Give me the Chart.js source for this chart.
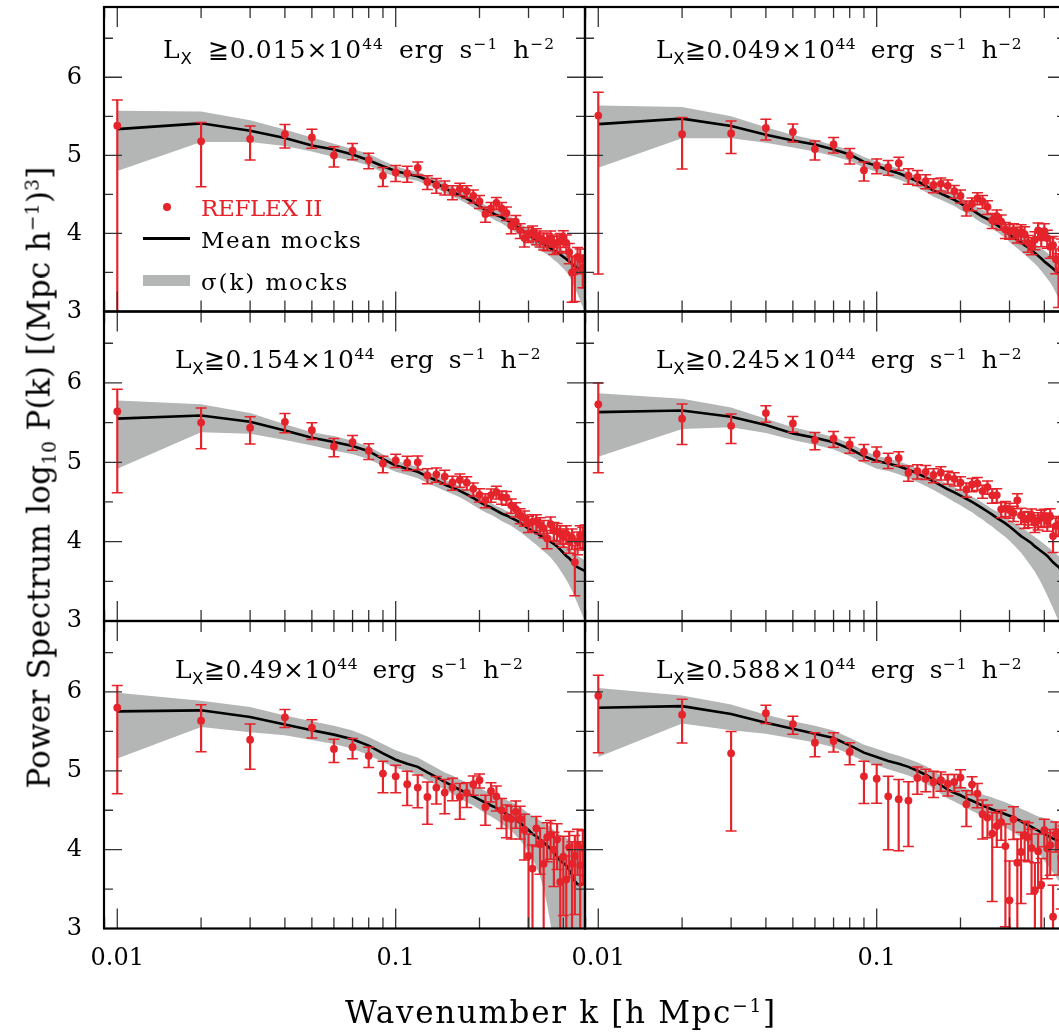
<!DOCTYPE html>
<html>
<head>
<meta charset="utf-8">
<script src="https://cdn.jsdelivr.net/npm/chart.js@4.4.1/dist/chart.umd.min.js"></script>
<style>
  html, body { margin: 0; padding: 0; background: #fff; overflow: hidden; }
  #page { position: relative; width: 1075px; height: 1033px; font-family: "DejaVu Serif", serif; color: #000; }
  #page canvas { position: absolute; left: 0; top: 0; }
  .txt { position: absolute; white-space: nowrap; line-height: 1; }
  .ttl { font-size: 25px; }
  .ttl sup { font-size: 0.62em; vertical-align: 0.55em; line-height: 0; }
  .ttl sub { font-size: 0.66em; vertical-align: -0.38em; line-height: 0; font-family: "DejaVu Sans", sans-serif; }
  .axt { font-size: 31px; }
  .axt sup { font-size: 0.6em; vertical-align: 0.6em; line-height: 0; }
  .axt sub { font-size: 0.6em; vertical-align: -0.3em; line-height: 0; }
  .leg { font-size: 23px; }
  .sym { position: absolute; }
</style>
</head>
<body>
<div id="page"></div>
<script>
// wavenumbers k [h/Mpc]
const kValues = [0.01,0.02,0.03,0.04,0.05,0.06,0.07,0.08,0.09,0.10,0.11,0.12,0.13,0.14,0.15,0.16,0.17,0.18,0.19,0.20,
  0.21,0.22,0.23,0.24,0.25,0.26,0.27,0.28,0.29,0.30,0.31,0.32,0.33,0.34,0.35,0.36,0.37,0.38,0.39,0.40,
  0.41,0.42,0.43,0.44,0.45,0.46,0.47,0.48];
const xTickLabels = [0.01, 0.1];
const yTickLabels = [3, 4, 5, 6];
const thresholds = ['0.015', '0.049', '0.154', '0.245', '0.49', '0.588'];

// log10 P(k) of REFLEX II, upper error in dex, mean of mocks, sigma band of mocks
const logP_015 = [5.38,5.18,5.21,5.27,5.23,5.00,5.06,4.94,4.74,4.78,4.77,4.84,4.66,4.62,4.59,4.53,4.57,4.54,4.48,4.41,
  4.25,4.32,4.39,4.32,4.26,4.10,4.15,4.04,3.94,3.99,4.01,3.97,3.94,3.91,3.90,3.94,3.86,3.88,3.90,3.94,3.88,3.76,3.50,3.51,3.70,3.67,3.56,3.56];
const errUp_015 = [0.33,0.24,0.165,0.125,0.105,0.11,0.092,0.088,0.105,0.09,0.09,0.075,0.08,0.085,0.08,0.08,0.072,0.072,0.075,0.075,
  0.085,0.075,0.07,0.075,0.078,0.085,0.08,0.085,0.09,0.085,0.085,0.09,0.09,0.095,0.095,0.09,0.10,0.10,0.10,0.095,0.10,0.11,0.20,0.20,0.12,0.13,0.16,0.16];
const mean_015 = [5.336,5.41,5.314,5.222,5.126,5.075,5.01,4.937,4.86,4.80,4.76,4.732,4.685,4.645,4.58,4.53,4.49,4.447,4.40,4.35,
  4.30,4.27,4.235,4.21,4.17,4.14,4.10,4.06,4.02,3.98,3.943,3.92,3.89,3.865,3.84,3.81,3.78,3.76,3.73,3.70,3.672,3.64,3.61,3.58,3.56,3.54,3.52,3.50];
const bandHi_015 = [5.57,5.56,5.45,5.33,5.23,5.15,5.08,5.02,4.93,4.86,4.82,4.79,4.74,4.70,4.64,4.59,4.55,4.50,4.46,4.41,
  4.36,4.33,4.30,4.27,4.24,4.21,4.17,4.13,4.09,4.05,4.02,3.99,3.96,3.94,3.91,3.88,3.86,3.83,3.81,3.78,3.76,3.73,3.71,3.68,3.66,3.64,3.62,3.60];
const bandLo_015 = [4.80,5.17,5.17,5.12,5.05,4.98,4.93,4.87,4.78,4.73,4.70,4.67,4.62,4.58,4.52,4.47,4.43,4.38,4.33,4.28,
  4.23,4.20,4.16,4.13,4.09,4.05,4.01,3.97,3.93,3.89,3.85,3.82,3.79,3.76,3.73,3.70,3.66,3.63,3.59,3.55,3.51,3.45,3.38,3.30,3.22,3.14,3.05,2.95];

const logP_049 = [5.51,5.27,5.28,5.35,5.30,5.08,5.14,5.00,4.81,4.87,4.85,4.90,4.74,4.72,4.67,4.62,4.635,4.61,4.54,4.48,
  4.33,4.38,4.45,4.41,4.34,4.17,4.22,4.15,4.05,4.03,4.04,3.99,4.02,3.99,3.88,3.85,3.92,4.04,3.96,4.03,3.94,3.83,3.85,3.67,3.52,3.80,3.75,3.70];
const errUp_049 = [0.299,0.215,0.16,0.113,0.10,0.105,0.088,0.088,0.105,0.084,0.084,0.075,0.088,0.085,0.08,0.08,0.075,0.075,0.075,0.075,
  0.085,0.075,0.07,0.075,0.08,0.085,0.08,0.085,0.09,0.085,0.085,0.09,0.09,0.095,0.095,0.095,0.10,0.095,0.10,0.095,0.10,0.11,0.11,0.13,0.22,0.13,0.14,0.15];
const mean_049 = [5.40,5.47,5.377,5.264,5.19,5.138,5.075,5.01,4.916,4.866,4.81,4.77,4.72,4.669,4.61,4.55,4.51,4.47,4.43,4.384,
  4.34,4.30,4.258,4.216,4.185,4.145,4.11,4.07,4.03,3.985,3.95,3.918,3.885,3.85,3.82,3.784,3.75,3.713,3.68,3.64,3.61,3.58,3.55,3.515,3.48,3.45,3.42,3.39];
const bandHi_049 = [5.64,5.62,5.50,5.36,5.26,5.20,5.13,5.07,4.98,4.92,4.87,4.83,4.78,4.73,4.68,4.62,4.58,4.54,4.50,4.46,
  4.42,4.38,4.34,4.30,4.27,4.23,4.20,4.16,4.12,4.08,4.05,4.02,3.99,3.96,3.93,3.90,3.87,3.84,3.81,3.78,3.75,3.72,3.70,3.67,3.65,3.62,3.60,3.58];
const bandLo_049 = [4.84,5.22,5.22,5.16,5.10,5.05,4.99,4.93,4.84,4.79,4.73,4.69,4.64,4.59,4.53,4.47,4.43,4.39,4.35,4.30,
  4.26,4.22,4.17,4.13,4.10,4.06,4.02,3.98,3.94,3.89,3.85,3.81,3.77,3.73,3.69,3.65,3.61,3.57,3.52,3.47,3.42,3.37,3.31,3.24,3.16,3.08,3.00,2.90];

const logP_154 = [5.64,5.50,5.435,5.51,5.405,5.20,5.255,5.145,4.985,5.025,4.995,5.00,4.835,4.848,4.82,4.745,4.777,4.743,4.665,4.59,
  4.524,4.587,4.625,4.562,4.554,4.457,4.41,4.33,4.30,4.23,4.25,4.25,4.21,4.17,4.04,4.22,4.14,4.13,4.10,4.06,4.10,4.00,4.05,3.74,4.00,4.08,4.06,4.09];
const errUp_154 = [0.28,0.185,0.138,0.105,0.092,0.10,0.084,0.088,0.092,0.076,0.08,0.078,0.085,0.08,0.08,0.08,0.075,0.075,0.075,0.075,
  0.08,0.075,0.072,0.075,0.078,0.08,0.08,0.085,0.085,0.09,0.09,0.09,0.09,0.095,0.10,0.09,0.10,0.10,0.10,0.10,0.10,0.11,0.11,0.21,0.12,0.12,0.12,0.12];
const mean_154 = [5.55,5.59,5.51,5.40,5.31,5.255,5.205,5.14,5.04,4.96,4.92,4.88,4.82,4.77,4.72,4.68,4.64,4.595,4.55,4.50,
  4.46,4.43,4.39,4.355,4.33,4.30,4.27,4.24,4.20,4.165,4.134,4.11,4.08,4.05,4.02,4.00,3.97,3.94,3.90,3.86,3.82,3.79,3.75,3.70,3.68,3.66,3.645,3.63];
const bandHi_154 = [5.78,5.73,5.62,5.48,5.38,5.33,5.27,5.20,5.10,5.02,4.98,4.94,4.88,4.83,4.78,4.74,4.70,4.65,4.61,4.56,
  4.52,4.49,4.45,4.42,4.39,4.36,4.33,4.30,4.27,4.24,4.21,4.18,4.15,4.13,4.10,4.08,4.05,4.03,4.00,3.97,3.94,3.91,3.88,3.85,3.82,3.80,3.78,3.76];
const bandLo_154 = [4.92,5.38,5.36,5.28,5.21,5.15,5.10,5.04,4.95,4.88,4.84,4.80,4.74,4.69,4.64,4.60,4.56,4.51,4.46,4.41,
  4.37,4.34,4.30,4.26,4.23,4.20,4.16,4.12,4.08,4.04,4.00,3.96,3.92,3.88,3.84,3.80,3.75,3.70,3.64,3.58,3.52,3.45,3.38,3.30,3.22,3.14,3.06,2.98];

const logP_245 = [5.73,5.55,5.46,5.62,5.49,5.28,5.30,5.225,5.133,5.107,5.028,5.053,4.868,4.889,4.88,4.84,4.868,4.813,4.792,4.742,
  4.658,4.72,4.734,4.637,4.688,4.583,4.587,4.407,4.42,4.40,4.36,4.52,4.33,4.28,4.29,4.322,4.238,4.27,4.30,4.314,4.26,4.314,4.07,4.196,4.217,4.20,4.22,4.18];
const errUp_245 = [0.27,0.184,0.147,0.092,0.088,0.096,0.088,0.088,0.09,0.085,0.085,0.08,0.085,0.08,0.08,0.08,0.075,0.075,0.075,0.075,
  0.08,0.075,0.075,0.075,0.075,0.08,0.08,0.085,0.085,0.085,0.085,0.085,0.09,0.09,0.09,0.09,0.095,0.095,0.095,0.095,0.10,0.10,0.14,0.10,0.10,0.10,0.10,0.10];
const mean_245 = [5.632,5.653,5.573,5.469,5.364,5.31,5.254,5.17,5.078,5.015,4.985,4.95,4.905,4.86,4.81,4.76,4.71,4.66,4.62,4.58,
  4.54,4.50,4.46,4.42,4.38,4.34,4.30,4.265,4.23,4.19,4.15,4.11,4.07,4.04,4.01,3.98,3.94,3.91,3.88,3.85,3.82,3.78,3.74,3.71,3.68,3.64,3.60,3.56];
const bandHi_245 = [5.87,5.80,5.69,5.55,5.44,5.38,5.32,5.24,5.15,5.08,5.05,5.01,4.97,4.92,4.87,4.82,4.77,4.73,4.69,4.65,
  4.61,4.57,4.53,4.49,4.45,4.41,4.38,4.35,4.31,4.28,4.24,4.21,4.18,4.15,4.12,4.09,4.06,4.03,4.00,3.97,3.94,3.91,3.88,3.85,3.82,3.79,3.76,3.73];
const bandLo_245 = [5.07,5.42,5.44,5.37,5.28,5.22,5.16,5.08,4.99,4.92,4.89,4.85,4.80,4.75,4.70,4.65,4.60,4.55,4.50,4.46,
  4.41,4.37,4.32,4.28,4.23,4.19,4.14,4.10,4.06,4.01,3.96,3.91,3.86,3.80,3.74,3.68,3.62,3.55,3.48,3.40,3.32,3.24,3.16,3.08,3.00,2.92,2.85,2.80];

const logP_490 = [5.80,5.635,5.395,5.678,5.547,5.277,5.30,5.19,4.965,4.93,4.83,4.787,4.668,4.787,4.724,4.787,4.668,4.72,4.83,4.88,
  4.541,4.744,4.677,4.50,4.407,4.39,4.478,4.39,4.25,3.92,3.76,4.27,4.07,3.82,4.16,4.19,4.00,4.13,3.59,3.91,3.62,4.03,3.82,3.92,4.06,3.80,4.02,4.05];
const errUp_490 = [0.283,0.203,0.198,0.10,0.10,0.123,0.11,0.11,0.155,0.14,0.165,0.16,0.19,0.14,0.165,0.12,0.17,0.13,0.105,0.08,
  0.15,0.105,0.13,0.15,0.16,0.16,0.14,0.16,0.20,0.28,0.30,0.15,0.20,0.30,0.18,0.18,0.22,0.20,0.32,0.26,0.30,0.20,0.28,0.26,0.20,0.30,0.22,0.20];
const mean_490 = [5.754,5.767,5.683,5.586,5.514,5.459,5.40,5.32,5.22,5.14,5.09,5.05,4.98,4.92,4.86,4.81,4.76,4.715,4.675,4.635,
  4.595,4.56,4.53,4.49,4.45,4.42,4.38,4.34,4.29,4.25,4.20,4.17,4.13,4.09,4.05,4.01,3.96,3.91,3.86,3.83,3.80,3.74,3.68,3.60,3.56,3.55,3.57,3.58];
const bandHi_490 = [5.99,5.89,5.81,5.70,5.63,5.57,5.51,5.43,5.34,5.26,5.21,5.17,5.10,5.04,4.98,4.94,4.89,4.855,4.815,4.785,
  4.745,4.72,4.69,4.66,4.63,4.60,4.57,4.54,4.50,4.46,4.42,4.40,4.37,4.34,4.31,4.28,4.25,4.22,4.19,4.17,4.15,4.12,4.10,4.07,4.05,4.03,4.01,4.00];
const bandLo_490 = [5.155,5.555,5.49,5.45,5.39,5.34,5.28,5.20,5.11,5.04,4.99,4.95,4.88,4.82,4.76,4.71,4.65,4.60,4.56,4.51,
  4.46,4.42,4.38,4.33,4.28,4.24,4.18,4.12,4.05,3.97,3.88,3.78,3.66,3.50,3.30,3.05,2.80,2.60,2.50,2.50,2.50,2.50,2.50,2.50,2.50,2.50,2.50,2.50];

const logP_588 = [5.953,5.712,5.222,5.73,5.593,5.357,5.378,5.239,4.93,4.90,4.677,4.639,4.622,4.909,4.90,4.858,4.88,4.837,4.858,4.914,
  4.576,4.825,4.711,4.449,4.407,4.204,4.30,4.35,4.046,3.357,4.385,3.835,3.97,4.18,4.16,4.02,3.485,3.98,3.557,4.246,4.014,4.056,3.15,4.20,4.06,3.90,4.10,4.00];
const errUp_588 = [0.258,0.194,0.278,0.10,0.10,0.126,0.105,0.118,0.19,0.18,0.253,0.25,0.24,0.14,0.12,0.135,0.105,0.115,0.095,0.10,
  0.17,0.10,0.127,0.18,0.16,0.27,0.165,0.15,0.28,0.50,0.16,0.30,0.25,0.18,0.18,0.24,0.35,0.22,0.33,0.14,0.20,0.20,0.40,0.15,0.20,0.25,0.20,0.22];
const mean_588 = [5.80,5.82,5.72,5.61,5.534,5.471,5.416,5.323,5.23,5.175,5.125,5.09,5.05,5.00,4.95,4.89,4.82,4.76,4.72,4.69,
  4.65,4.62,4.59,4.56,4.535,4.51,4.49,4.47,4.45,4.43,4.41,4.385,4.36,4.335,4.31,4.29,4.265,4.24,4.22,4.20,4.18,4.16,4.14,4.125,4.11,4.10,4.09,4.08];
const bandHi_588 = [6.05,5.956,5.84,5.71,5.63,5.57,5.51,5.42,5.33,5.28,5.23,5.19,5.15,5.11,5.06,5.00,4.94,4.88,4.84,4.81,
  4.78,4.75,4.72,4.70,4.68,4.66,4.64,4.62,4.60,4.58,4.56,4.54,4.52,4.50,4.48,4.46,4.44,4.42,4.41,4.40,4.39,4.38,4.37,4.36,4.35,4.34,4.33,4.32];
const bandLo_588 = [5.175,5.60,5.513,5.47,5.41,5.36,5.30,5.21,5.12,5.07,5.02,4.98,4.94,4.89,4.84,4.78,4.71,4.65,4.61,4.57,
  4.53,4.49,4.46,4.43,4.40,4.37,4.34,4.31,4.28,4.25,4.22,4.19,4.16,4.12,4.08,4.04,4.00,3.96,3.91,3.86,3.81,3.76,3.71,3.66,3.61,3.56,3.51,3.46];

const panels = [
  { row: 0, col: 0, lx: thresholds[0], p: logP_015, e: errUp_015, m: mean_015, hi: bandHi_015, lo: bandLo_015 },
  { row: 0, col: 1, lx: thresholds[1], p: logP_049, e: errUp_049, m: mean_049, hi: bandHi_049, lo: bandLo_049 },
  { row: 1, col: 0, lx: thresholds[2], p: logP_154, e: errUp_154, m: mean_154, hi: bandHi_154, lo: bandLo_154 },
  { row: 1, col: 1, lx: thresholds[3], p: logP_245, e: errUp_245, m: mean_245, hi: bandHi_245, lo: bandLo_245 },
  { row: 2, col: 0, lx: thresholds[4], p: logP_490, e: errUp_490, m: mean_490, hi: bandHi_490, lo: bandLo_490 },
  { row: 2, col: 1, lx: thresholds[5], p: logP_588, e: errUp_588, m: mean_588, hi: bandHi_588, lo: bandLo_588 }
];

// page geometry
const W = 1075, H = 1033;
const colEdges = [104, 585, 1066];
const rowEdges = [1.5, 311.5, 621, 928.5];
const AXW = 60, AXH = 50;   // room kept for the tick labels
const xMin = 0.00896, xMax = 0.4786, yMin = 3, yMax = 6.9;
const RED = '#e5232b', GRAY = '#b4b5b5';
const FONT = '"DejaVu Serif", serif';

// box with inward ticks on all four sides
const frame = {
  id: 'frame',
  afterDatasetsDraw(chart) {
    const { ctx, chartArea: a, scales: { x, y } } = chart;
    ctx.save();
    ctx.strokeStyle = '#333';
    ctx.lineWidth = 1.3;
    ctx.beginPath();
    for (let e = -3; e <= 0; e++) {
      for (let m = 1; m <= 9; m++) {
        const v = m * Math.pow(10, e);
        if (v < x.min || v > x.max) continue;
        const px = x.getPixelForValue(v);
        const len = m === 1 ? 20 : 11;
        ctx.moveTo(px, a.bottom); ctx.lineTo(px, a.bottom - len);
        ctx.moveTo(px, a.top); ctx.lineTo(px, a.top + len);
      }
    }
    for (let v = yMin + 0.5; v < yMax; v += 0.5) {
      const py = y.getPixelForValue(v);
      const len = Math.abs(v - Math.round(v)) < 1e-6 ? 18 : 9;
      ctx.moveTo(a.left, py); ctx.lineTo(a.left + len, py);
      ctx.moveTo(a.right, py); ctx.lineTo(a.right - len, py);
    }
    ctx.stroke();
    ctx.lineWidth = 2.2;
    ctx.strokeStyle = '#000';
    ctx.strokeRect(a.left, a.top, a.right - a.left, a.bottom - a.top);
    ctx.restore();
  }
};

function pts(arr) { return kValues.map((k, i) => ({ x: k, y: arr[i] })); }

const host = document.getElementById('page');

panels.forEach(P => {
  const cv = document.createElement('canvas');
  cv.width = W; cv.height = H;
  cv.style.width = W + 'px'; cv.style.height = H + 'px';
  host.appendChild(cv);
  const L = colEdges[P.col], R = colEdges[P.col + 1];
  const T = rowEdges[P.row], B = rowEdges[P.row + 1];

  // symmetric linear errors -> asymmetric in log
  const top = P.p.map((v, i) => v + P.e[i]);
  const bot = P.p.map((v, i) => {
    const s = Math.pow(10, P.e[i]) - 1;
    return s < 0.999 ? v + Math.log10(1 - s) : 0;
  });

  new Chart(cv, {
    type: 'scatter',
    data: {
      datasets: [
        { type: 'scatter', data: pts(P.p), pointRadius: 3.9, pointBackgroundColor: RED, pointBorderColor: RED, pointBorderWidth: 0, clip: 0, order: 0 },
        { type: 'scatter', data: pts(top), pointStyle: 'line', pointRadius: 5.5, pointBorderColor: RED, pointBorderWidth: 1.5, clip: 0, order: 1 },
        { type: 'scatter', data: pts(bot), pointStyle: 'line', pointRadius: 5.5, pointBorderColor: RED, pointBorderWidth: 1.5, clip: 0, order: 1 },
        { type: 'bar', data: kValues.map((k, i) => ({ x: k, y: [bot[i], top[i]] })), backgroundColor: RED, barThickness: 1.5, borderWidth: 0, clip: 0, order: 2 },
        { type: 'line', data: pts(P.m), borderColor: '#000', borderWidth: 2.6, pointRadius: 0, tension: 0, fill: false, clip: 0, order: 3 },
        { type: 'line', data: pts(P.hi), borderColor: 'rgba(0,0,0,0)', borderWidth: 1, backgroundColor: GRAY, pointRadius: 0, tension: 0, fill: '+1', clip: 0, order: 4 },
        { type: 'line', data: pts(P.lo), borderColor: 'rgba(0,0,0,0)', borderWidth: 1, pointRadius: 0, tension: 0, fill: false, clip: 0, order: 5 }
      ]
    },
    options: {
      responsive: false,
      animation: false,
      devicePixelRatio: 1,
      events: [],
      layout: { padding: { left: L - AXW, right: W - R, top: T, bottom: H - B - AXH } },
      plugins: { legend: { display: false }, tooltip: { enabled: false } },
      scales: {
        x: {
          type: 'logarithmic', min: xMin, max: xMax, bounds: 'data', offset: false,
          grid: { display: false, drawTicks: false, offset: false }, border: { display: false },
          afterBuildTicks: s => { s.ticks = xTickLabels.map(v => ({ value: v })); },
          afterFit: s => { s.height = AXH; s.paddingLeft = 0; s.paddingRight = 0; },
          ticks: { display: P.row === 2, autoSkip: false, maxRotation: 0, padding: 16, color: '#000',
                   font: { family: FONT, size: 24 }, callback: v => String(v) }
        },
        y: {
          type: 'linear', min: yMin, max: yMax, bounds: 'data',
          grid: { display: false, drawTicks: false }, border: { display: false },
          afterBuildTicks: s => { s.ticks = yTickLabels.map(v => ({ value: v })); },
          afterFit: s => { s.width = AXW; s.paddingTop = 0; s.paddingBottom = 0; },
          ticks: { display: P.col === 0, autoSkip: false, padding: 22, color: '#000',
                   font: { family: FONT, size: 24 }, callback: v => String(v) }
        }
      }
    },
    plugins: [frame]
  });
});

// text overlays
function addText(cls, html, left, top, color) {
  const d = document.createElement('div');
  d.className = 'txt ' + cls;
  d.innerHTML = html;
  d.style.left = left + 'px';
  d.style.top = top + 'px';
  if (color) d.style.color = color;
  host.appendChild(d);
  return d;
}
function fitWidth(el, target) {
  const w = el.offsetWidth;
  const n = el.textContent.length;
  el.style.letterSpacing = ((target - w) / n) + 'px';
}

const titleWidths = [392, 366, 366, 366, 348, 366];
panels.forEach((P, i) => {
  const gap = i === 0 ? ' ' : '';
  const html = 'L<sub>X</sub>' + gap + '≧' + P.lx + '×10<sup>44</sup> erg s<sup>−1</sup> h<sup>−2</sup>';
  const left = colEdges[P.col] + (i === 0 ? 59 : 71);
  const el = addText('ttl', html, left, rowEdges[P.row] + 56.5 - 21);
  el.style.wordSpacing = '6px';
  fitWidth(el, titleWidths[i]);
});

const xt = addText('axt', 'Wavenumber k [h Mpc<sup>−1</sup>]', 345, 997);
fitWidth(xt, 432);
const yt = addText('axt', 'Power Spectrum log<sub>10</sub> P(k) [(Mpc h<sup>−1</sup>)<sup>3</sup>]', 0, 0);
fitWidth(yt, 622);
yt.style.left = (39 - yt.offsetWidth / 2) + 'px';
yt.style.top = (477 - yt.offsetHeight / 2) + 'px';
yt.style.transform = 'rotate(-90deg)';

// legend
function sym(left, top, w, h, bg, radius) {
  const d = document.createElement('div');
  d.className = 'sym';
  Object.assign(d.style, { left: left + 'px', top: top + 'px', width: w + 'px', height: h + 'px', background: bg });
  if (radius) d.style.borderRadius = radius;
  host.appendChild(d);
}
sym(162.5, 202.5, 8.5, 8.5, RED, '50%');
sym(143, 237, 47, 3, '#000');
sym(143, 275, 47, 11, GRAY);
fitWidth(addText('leg', 'REFLEX II', 201, 216 - 19.5, RED), 121);
fitWidth(addText('leg', 'Mean mocks', 201, 248.5 - 19.5), 161);
fitWidth(addText('leg', 'σ(k) mocks', 201, 290 - 19.5), 148);
</script>
</body>
</html>
